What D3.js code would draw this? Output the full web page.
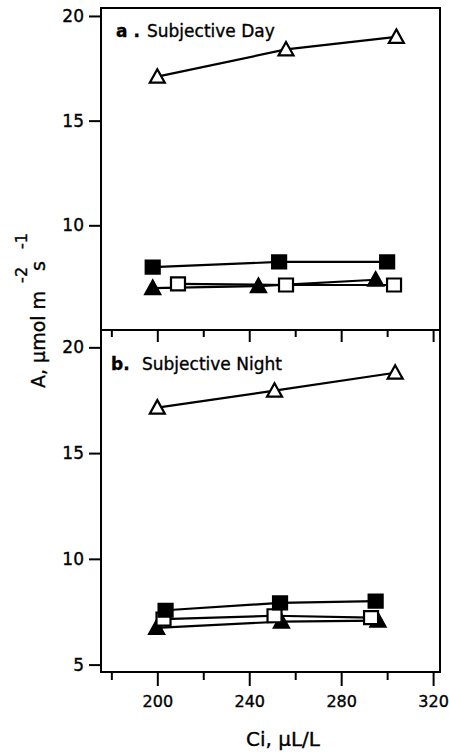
<!DOCTYPE html>
<html>
<head>
<meta charset="utf-8">
<script src="https://cdn.jsdelivr.net/npm/d3@7"></script>
<style>
    body { margin: 0; background: #fff; }
    svg { display: block; }
    text { font-family: "DejaVu Sans", sans-serif; fill: #000; stroke: #000; stroke-width: 0.35px; }
</style>
</head>
<body>
<svg id="chart" width="449" height="752"></svg>
<script>
// Ci (uL/L), A (umol m-2 s-1)
const dayOpenTriangle = [[200, 17.1], [256, 18.4], [304, 19.0]];
const dayFilledSquare = [[198, 8.0], [253, 8.25], [300, 8.25]];
const dayOpenSquare = [[209, 7.2], [256, 7.15], [303, 7.15]];
const dayFilledTriangle = [[198, 7.0], [244, 7.1], [295, 7.4]];

const nightOpenTriangle = [[200, 17.15], [251, 17.95], [303.5, 18.8]];
const nightFilledSquare = [[203.6, 7.57], [253.4, 7.92], [295, 8.0]];
const nightOpenSquare = [[202.7, 7.15], [251, 7.31], [293, 7.22]];
const nightFilledTriangle = [[199.7, 6.74], [254, 7.03], [296, 7.08]];

const panelLetters = ['a', 'b'];
const panelNames = ['Subjective Day', 'Subjective Night'];
const xMajorTicks = [200, 240, 280, 320];
const xMinorTicks = [180, 220, 260, 300];
const topYTicks = [10, 15, 20];
const bottomYTicks = [5, 10, 15, 20];

const svg = d3.select('#chart');
const plotLeft = 101, plotRight = 440, plotTop = 8, plotMid = 330, plotBottom = 672;

const x = d3.scaleLinear().domain([175.5, 323]).range([plotLeft, plotRight]);
const yTop = d3.scaleLinear().domain([5, 20.38]).range([plotMid, plotTop]);
const yBottom = d3.scaleLinear().domain([4.65, 20.82]).range([plotBottom, plotMid]);

// marker shapes
const shapes = {
    square: 'M-7,-6.5h14v13h-14Z',
    triangle: 'M0,-7.5L7.5,6L-7.5,6Z'
};

function series(data, shape, filled) {
    return { data, shape, filled };
}

const panels = [
    {
        y: yTop, ticks: topYTicks, letter: panelLetters[0], name: panelNames[0],
        series: [
            series(dayOpenTriangle, 'triangle', false),
            series(dayFilledSquare, 'square', true),
            series(dayFilledTriangle, 'triangle', true),
            series(dayOpenSquare, 'square', false)
        ]
    },
    {
        y: yBottom, ticks: bottomYTicks, letter: panelLetters[1], name: panelNames[1],
        series: [
            series(nightOpenTriangle, 'triangle', false),
            series(nightFilledTriangle, 'triangle', true),
            series(nightOpenSquare, 'square', false),
            series(nightFilledSquare, 'square', true)
        ]
    }
];

function styleAxis(g) {
    g.selectAll('.domain').remove();
    g.selectAll('.tick line').attr('stroke', '#000').attr('stroke-width', 2);
    g.selectAll('.tick text').attr('font-size', 16).attr('fill', '#000');
}

panels.forEach((p, i) => {
    const g = svg.append('g');
    const y0 = i === 0 ? plotTop : plotMid;
    const y1 = i === 0 ? plotMid : plotBottom;

    // frame
    g.append('rect')
        .attr('x', plotLeft).attr('y', y0)
        .attr('width', plotRight - plotLeft).attr('height', y1 - y0)
        .attr('fill', 'none').attr('stroke', '#000').attr('stroke-width', 2);

    g.append('g')
        .attr('transform', `translate(${plotLeft},0)`)
        .call(d3.axisLeft(p.y).tickValues(p.ticks).tickSize(12).tickPadding(5).tickSizeOuter(0))
        .call(styleAxis)
        .call(a => a.selectAll('.tick text').attr('font-size', 17));

    // lines
    const line = d3.line().x(d => x(d[0])).y(d => p.y(d[1]));
    g.selectAll('path.series')
        .data(p.series)
        .join('path')
        .attr('class', 'series')
        .attr('d', s => line(s.data))
        .attr('fill', 'none')
        .attr('stroke', '#000')
        .attr('stroke-width', 2.2);

    // markers
    p.series.forEach(s => {
        g.selectAll(null)
            .data(s.data)
            .join('path')
            .attr('transform', d => `translate(${x(d[0])},${p.y(d[1])})`)
            .attr('d', shapes[s.shape])
            .attr('fill', s.filled ? '#000' : '#fff')
            .attr('stroke', '#000')
            .attr('stroke-width', 2.2);
    });

    // panel label
    const title = g.append('text')
        .attr('x', i === 0 ? 116 : 111)
        .attr('y', i === 0 ? 37 : 370)
        .attr('font-size', 17);
    title.append('tspan').attr('font-weight', 'bold').text(i === 0 ? p.letter + ' .' : p.letter + '.');
    title.append('tspan').attr('x', i === 0 ? 147 : 142).text(p.name);
});

// ticks along the shared edge, pointing into the lower panel
svg.append('g')
    .attr('transform', `translate(0,${plotMid})`)
    .call(d3.axisBottom(x).tickValues(xMajorTicks).tickSize(12).tickFormat('').tickSizeOuter(0))
    .call(styleAxis);
svg.append('g')
    .attr('transform', `translate(0,${plotMid})`)
    .call(d3.axisBottom(x).tickValues(xMinorTicks).tickSize(7).tickFormat('').tickSizeOuter(0))
    .call(styleAxis);

// bottom x axis
svg.append('g')
    .attr('transform', `translate(0,${plotBottom})`)
    .call(d3.axisBottom(x).tickValues(xMajorTicks).tickSize(14).tickPadding(10).tickSizeOuter(0))
    .call(styleAxis);
svg.append('g')
    .attr('transform', `translate(0,${plotBottom})`)
    .call(d3.axisBottom(x).tickValues(xMinorTicks).tickSize(8).tickFormat('').tickSizeOuter(0))
    .call(styleAxis);

// axis titles
svg.append('text')
    .attr('x', 283).attr('y', 746)
    .attr('text-anchor', 'middle')
    .attr('font-size', 20)
    .text('Ci, \u00b5L/L');

const yTitle = svg.append('text')
    .attr('transform', 'translate(45,388) rotate(-90)')
    .attr('font-size', 19);
yTitle.append('tspan').text('A, \u00b5mol m');
yTitle.append('tspan').attr('font-size', 16).attr('dx', 8).attr('dy', -18).text('-2');
yTitle.append('tspan').attr('dx', -4).attr('dy', 18).text('s');
yTitle.append('tspan').attr('font-size', 16).attr('dx', 12).attr('dy', -18).text('-1');
</script>
</body>
</html>
